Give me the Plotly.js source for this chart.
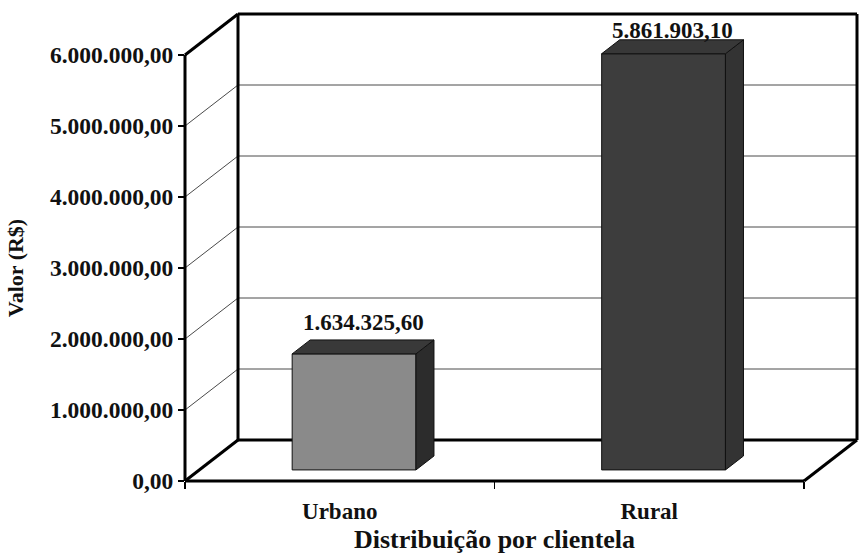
<!DOCTYPE html>
<html>
<head>
<meta charset="utf-8">
<script src="https://cdn.plot.ly/plotly-3.0.1.min.js"></script>
<style>
  html, body { margin: 0; padding: 0; background: #ffffff; }
  #chart { width: 860px; height: 558px; }
</style>
</head>
<body>
<div id="chart"></div>
<script>
// ---- data ----
const categories = ['Urbano', 'Rural'];
const values = [1634325.60, 5861903.10];
const yTickValues = [0, 1000000, 2000000, 3000000, 4000000, 5000000, 6000000];
const xTitle = 'Distribuição por clientela';
const yTitle = 'Valor (R$)';

// ---- layout geometry (pixels) and styles ----
const W = 860, H = 558;
const FRONT = { left: 185, right: 804, bottom: 481, top: 55 };   // front plane of the box
const BOX = { left: 183, right: 859, bottom: 483, top: 12 };     // whole drawing area
const DEPTH_PX_X = 53, DEPTH_PX_Y = 41;                           // box depth in pixels
const F_FRONT = 0.27;       // bar front plane (fraction of depth)
const F_BACK = 0.61;        // bar back plane
const BAR_HALF = 0.2;       // half bar width in x units
const FONT = 'Liberation Serif, Times New Roman, serif';
const frontColors = ['#8a8a8a', '#3d3d3d'];
const topColors = ['#393939', '#383838'];
const sideColors = ['#2c2c2c', '#333333'];

function fmtBR(v) {
  const fixed = v.toFixed(2).split('.');
  const intPart = fixed[0].replace(/\B(?=(\d{3})+(?!\d))/g, '.');
  return intPart + ',' + fixed[1];
}

const xs = categories.map((c, i) => i);
const xMin = -0.5, xMax = categories.length - 0.5;
const yMax = Math.max.apply(null, yTickValues);

// scale (px per unit), shared by the front axes and the drawing axes
const ux = (FRONT.right - FRONT.left) / (xMax - xMin);
const uy = (FRONT.bottom - FRONT.top) / yMax;
const DEPTH_X = DEPTH_PX_X / ux;
const DEPTH_Y = DEPTH_PX_Y / uy;
const fullX = [xMin - (FRONT.left - BOX.left) / ux, xMax + (BOX.right - FRONT.right) / ux];
const fullY = [0 - (BOX.bottom - FRONT.bottom) / uy, yMax + (FRONT.top - BOX.top) / uy];

const traces = [];

// ---- subplot xy: walls, gridlines and frame (drawn first, behind the bars) ----
const gx = [], gy = [];
yTickValues.filter(v => v > 0 && v < yMax).forEach(v => {
  gx.push(xMin, xMin + DEPTH_X, xMax + DEPTH_X, null);
  gy.push(v, v + DEPTH_Y, v + DEPTH_Y, null);
});
traces.push({
  type: 'scatter', mode: 'lines', x: gx, y: gy,
  line: { color: '#4a4a4a', width: 1 }, hoverinfo: 'skip', showlegend: false
});

const fx = [], fy = [];
function seg(x0, y0, x1, y1) { fx.push(x0, x1, null); fy.push(y0, y1, null); }
seg(xMin, 0, xMin, yMax);
seg(xMin, yMax, xMin + DEPTH_X, yMax + DEPTH_Y);
seg(xMin + DEPTH_X, yMax + DEPTH_Y, xMax + DEPTH_X, yMax + DEPTH_Y);
seg(xMax + DEPTH_X, yMax + DEPTH_Y, xMax + DEPTH_X, DEPTH_Y);
seg(xMin + DEPTH_X, yMax + DEPTH_Y, xMin + DEPTH_X, DEPTH_Y);
seg(xMin + DEPTH_X, DEPTH_Y, xMax + DEPTH_X, DEPTH_Y);
seg(xMax + DEPTH_X, DEPTH_Y, xMax, 0);
seg(xMax, 0, xMin, 0);
seg(xMin, 0, xMin + DEPTH_X, DEPTH_Y);
traces.push({
  type: 'scatter', mode: 'lines', x: fx, y: fy,
  line: { color: '#000000', width: 3 }, hoverinfo: 'skip', showlegend: false
});

// ---- subplot x2y2: front-plane axes carrying the ticks and titles ----
traces.push({
  type: 'scatter', mode: 'none', x: xs, y: values, xaxis: 'x2', yaxis: 'y2',
  hoverinfo: 'skip', showlegend: false
});

// ---- subplot x3y3: bars (on top of the walls) ----
const dx1 = DEPTH_X * F_FRONT, dy1 = DEPTH_Y * F_FRONT;
const dx2 = DEPTH_X * F_BACK, dy2 = DEPTH_Y * F_BACK;
traces.push({
  type: 'bar', x: xs, y: values, base: dy1, xaxis: 'x3', yaxis: 'y3',
  offset: -BAR_HALF + dx1, width: 2 * BAR_HALF,
  marker: { color: frontColors, line: { color: '#111111', width: 1 } },
  hoverinfo: 'skip', showlegend: false
});
values.forEach((v, i) => {
  const x1 = i + BAR_HALF, x0 = i - BAR_HALF;
  traces.push({
    type: 'scatter', mode: 'lines', fill: 'toself', xaxis: 'x3', yaxis: 'y3',
    x: [x1 + dx1, x1 + dx2, x1 + dx2, x1 + dx1, x1 + dx1],
    y: [dy1, dy2, v + dy2, v + dy1, dy1],
    fillcolor: sideColors[i], line: { color: '#111111', width: 1 },
    hoverinfo: 'skip', showlegend: false
  });
  traces.push({
    type: 'scatter', mode: 'lines', fill: 'toself', xaxis: 'x3', yaxis: 'y3',
    x: [x0 + dx1, x1 + dx1, x1 + dx2, x0 + dx2, x0 + dx1],
    y: [v + dy1, v + dy1, v + dy2, v + dy2, v + dy1],
    fillcolor: topColors[i], line: { color: '#111111', width: 1 },
    hoverinfo: 'skip', showlegend: false
  });
});

// value labels
const labelGap = 17 / uy;
const annotations = values.map((v, i) => ({
  x: i + (dx1 + dx2) / 2,
  y: Math.min(v + dy2 + labelGap, yMax + DEPTH_Y - labelGap),
  xref: 'x3', yref: 'y3', text: fmtBR(v), showarrow: false,
  xanchor: 'center', yanchor: 'middle',
  font: { family: FONT, size: 23, color: '#111111', weight: 'bold' }
}));

const hiddenX = { visible: false, range: fullX, domain: [BOX.left / W, BOX.right / W], fixedrange: true };
const hiddenY = { visible: false, range: fullY, domain: [(H - BOX.bottom) / H, (H - BOX.top) / H], fixedrange: true };

const layout = {
  width: W, height: H,
  margin: { l: 0, r: 0, t: 0, b: 0 },
  paper_bgcolor: '#ffffff', plot_bgcolor: 'rgba(0,0,0,0)',
  separators: ',.',
  showlegend: false,
  xaxis: Object.assign({ anchor: 'y' }, hiddenX),
  yaxis: Object.assign({ anchor: 'x' }, hiddenY),
  xaxis3: Object.assign({ anchor: 'y3' }, hiddenX),
  yaxis3: Object.assign({ anchor: 'x3' }, hiddenY),
  xaxis2: {
    type: 'linear', range: [xMin, xMax], domain: [FRONT.left / W, FRONT.right / W],
    anchor: 'y2',
    tickvals: xs, ticktext: categories, ticks: '',
    ticklabelstandoff: 14,
    minor: { tickmode: 'array', tickvals: [xMin, 0.5, xMax], ticks: 'outside', ticklen: 7, tickwidth: 1.5, tickcolor: '#000000', showgrid: false },
    showgrid: false, zeroline: false, showline: false,
    tickfont: { family: FONT, size: 23, color: '#111111', weight: 'bold' },
    title: { text: xTitle, standoff: 6, font: { family: FONT, size: 26, color: '#111111', weight: 'bold' } },
    fixedrange: true
  },
  yaxis2: {
    range: [0, yMax], domain: [(H - FRONT.bottom) / H, (H - FRONT.top) / H],
    anchor: 'x2',
    tickvals: yTickValues, tickformat: ',.2f',
    ticks: 'outside', ticklen: 6, tickwidth: 1.5, tickcolor: '#000000',
    showgrid: false, zeroline: false, showline: false,
    tickfont: { family: FONT, size: 23.5, color: '#111111', weight: 'bold' },
    title: { text: yTitle, standoff: 20, font: { family: FONT, size: 22, color: '#111111', weight: 'bold' } },
    fixedrange: true
  },
  annotations: annotations
};

Plotly.newPlot('chart', traces, layout, { staticPlot: true, displayModeBar: false });
</script>
</body>
</html>
